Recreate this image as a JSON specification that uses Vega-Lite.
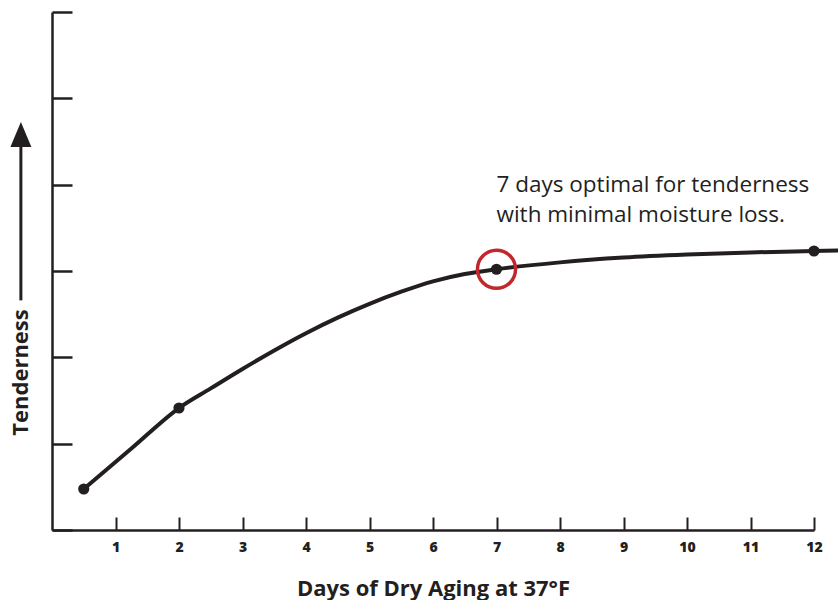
{
  "$schema": "https://vega.github.io/schema/vega-lite/v6.json",
  "width": 762,
  "height": 518,
  "autosize": {"type": "none"},
  "padding": {"left": 52, "top": 12, "right": 24, "bottom": 70},
  "background": "white",
  "config": {"view": {"stroke": null}, "font": "Open Sans"},
  "datasets": {
    "curve": [
      {"day": 0.5, "t": 0.475},
      {"day": 1.25, "t": 0.944},
      {"day": 2, "t": 1.413},
      {"day": 2.5, "t": 1.64},
      {"day": 3, "t": 1.865},
      {"day": 3.5, "t": 2.08},
      {"day": 4, "t": 2.28},
      {"day": 4.5, "t": 2.46},
      {"day": 5, "t": 2.62},
      {"day": 5.5, "t": 2.76},
      {"day": 6, "t": 2.88},
      {"day": 6.5, "t": 2.965},
      {"day": 7, "t": 3.02},
      {"day": 8, "t": 3.1},
      {"day": 9, "t": 3.155},
      {"day": 10, "t": 3.19},
      {"day": 11, "t": 3.215},
      {"day": 12, "t": 3.232},
      {"day": 12.38, "t": 3.238}
    ],
    "points": [
      {"day": 0.5, "t": 0.475},
      {"day": 2, "t": 1.413},
      {"day": 7, "t": 3.02},
      {"day": 12, "t": 3.232}
    ],
    "optimal": [{"day": 7, "t": 3.02}],
    "arrow": [{"day": -0.49, "t": 2.66, "t2": 4.52}],
    "head": [{"day": -0.49, "t": 4.58}],
    "note": [
      {"day": 7, "t": 3.915, "text": "7 days optimal for tenderness"},
      {"day": 7, "t": 3.568, "text": "with minimal moisture loss."}
    ]
  },
  "layer": [
    {
      "data": {"name": "curve"},
      "mark": {"type": "line", "interpolate": "monotone", "color": "#231f20", "strokeWidth": 4, "strokeCap": "round", "clip": false},
      "encoding": {
        "x": {
          "field": "day", "type": "quantitative",
          "scale": {"domain": [0, 12], "nice": false, "zero": false},
          "axis": {
            "title": "Days of Dry Aging at 37°F",
            "values": [1, 2, 3, 4, 5, 6, 7, 8, 9, 10, 11, 12],
            "format": "d",
            "grid": false,
            "tickSize": -13, "tickWidth": 2, "tickColor": "#231f20",
            "domainColor": "#231f20", "domainWidth": 2.5,
            "labelFont": "Open Sans", "labelFontWeight": 800, "labelFontSize": 14, "labelColor": "#231f20",
            "labelPadding": 23, "labelFlush": false,
            "titleFont": "Open Sans", "titleFontSize": 22, "titleFontWeight": "bold", "titleColor": "#231f20",
            "titleY": 58, "titleBaseline": "middle"
          }
        },
        "y": {
          "field": "t", "type": "quantitative",
          "scale": {"domain": [0, 6], "nice": false, "zero": false},
          "axis": {
            "title": "Tenderness",
            "values": [0, 1, 2, 3, 4, 5, 6],
            "grid": false, "labels": false,
            "tickSize": -20, "tickWidth": 2.5, "tickColor": "#231f20",
            "domainColor": "#231f20", "domainWidth": 2.5,
            "titleFont": "Open Sans", "titleFontSize": 22, "titleFontWeight": "bold", "titleColor": "#231f20",
            "titleX": -32, "titleY": 360, "titleAngle": 270, "titleBaseline": "middle", "titleAlign": "center"
          }
        }
      }
    },
    {
      "data": {"name": "points"},
      "mark": {"type": "point", "filled": true, "shape": "circle", "size": 125, "color": "#231f20", "opacity": 1},
      "encoding": {
        "x": {"field": "day", "type": "quantitative"},
        "y": {"field": "t", "type": "quantitative"}
      }
    },
    {
      "data": {"name": "optimal"},
      "mark": {"type": "point", "filled": false, "shape": "circle", "size": 1450, "color": "#c1272d", "strokeWidth": 3.5, "opacity": 1},
      "encoding": {
        "x": {"field": "day", "type": "quantitative"},
        "y": {"field": "t", "type": "quantitative"}
      }
    },
    {
      "data": {"name": "arrow"},
      "mark": {"type": "rule", "color": "#231f20", "strokeWidth": 3, "clip": false},
      "encoding": {
        "x": {"field": "day", "type": "quantitative"},
        "y": {"field": "t", "type": "quantitative"},
        "y2": {"field": "t2"}
      }
    },
    {
      "data": {"name": "head"},
      "mark": {"type": "point", "filled": true, "shape": "M-0.84,1L0,-1L0.84,1Z", "size": 625, "color": "#231f20", "opacity": 1, "clip": false},
      "encoding": {
        "x": {"field": "day", "type": "quantitative"},
        "y": {"field": "t", "type": "quantitative"}
      }
    },
    {
      "data": {"name": "note"},
      "mark": {"type": "text", "align": "left", "baseline": "alphabetic", "font": "Open Sans", "fontSize": 22.5, "color": "#231f20"},
      "encoding": {
        "x": {"field": "day", "type": "quantitative"},
        "y": {"field": "t", "type": "quantitative"},
        "text": {"field": "text"}
      }
    }
  ]
}
